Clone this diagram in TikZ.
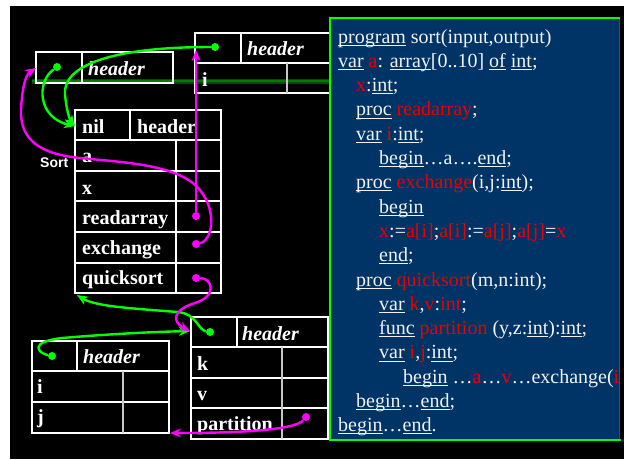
\documentclass[tikz,border=0pt]{standalone}
\usepackage{fontspec}
\setmainfont{Liberation Serif}
\newfontfamily\labelsans{Liberation Sans}
\usetikzlibrary{arrows.meta}

\definecolor{codebg}{RGB}{0,51,102}
\definecolor{codered}{RGB}{235,0,0}
\definecolor{linkgreen}{RGB}{0,255,0}
\definecolor{linkmag}{RGB}{255,0,255}
\definecolor{txtwhite}{RGB}{242,242,242}
\definecolor{bandgreen}{RGB}{0,80,0}
\definecolor{bandcore}{RGB}{0,125,0}

% underlined keyword with a fixed rule just below the baseline
\newcommand\undl[1]{\setbox0=\hbox{#1}\rlap{\rule[-2.6pt]{\wd0}{1pt}}\box0\relax}
% identifier set in red
\newcommand\rd[1]{\textcolor{codered}{#1}}

\tikzset{
  tbl/.style={draw=white, line width=1.6pt},
  tblin/.style={draw=white!78!black, line width=1.3pt},
  celltxt/.style={text=white, font=\fontsize{20}{24}\selectfont\bfseries, anchor=base west, inner sep=0pt},
  hdrtxt/.style={text=white, font=\fontsize{20}{24}\selectfont\bfseries\itshape, anchor=base west, inner sep=0pt},
  codeline/.style={text=txtwhite, font=\fontsize{20}{24}\selectfont, anchor=base west, inner sep=0pt},
  gdot/.style={circle, fill=linkgreen, inner sep=0pt, minimum size=8pt},
  mdot/.style={circle, fill=linkmag, inner sep=0pt, minimum size=8pt},
  garrow/.style={draw=linkgreen, line width=2.4pt, -{Stealth[length=11pt,width=9pt]}},
  marrow/.style={draw=linkmag, line width=2.4pt, -{Stealth[length=11pt,width=9pt]}},
}

\begin{document}
\begin{tikzpicture}[x=1pt,y=-1pt]
\useasboundingbox (0,0) rectangle (624,459);
\fill[white] (0,0) rectangle (624,459);
\fill[black] (10,6) rectangle (624,459);

% dark green band behind the two upper records
\draw[bandgreen, line width=5pt] (32,81) -- (330,81);
\draw[bandcore, line width=2pt] (32,81) -- (330,81);

% record: header (top left)
\draw[tbl] (36,52) rectangle (173,83);
\draw[tbl] (82,52) -- (82,83);
\node[hdrtxt] (hA) at (88,75) {header};

% record: readarray
\draw[tbl] (195,33) rectangle (332,93);
\draw[tbl] (195,63) -- (332,63);
\draw[tbl] (241,33) -- (241,63);
\draw[tblin] (287,63) -- (287,93);
\node[hdrtxt] (hB) at (247,55) {header};
\node[celltxt] (iB) at (202,86) {i};

% record: Sort
\draw[tbl] (75,110) rectangle (221,293);
\foreach \yy in {140,171,201,232,263} \draw[tbl] (75,\yy) -- (221,\yy);
\draw[tbl] (130,110) -- (130,140);
\draw[tbl] (176,140) -- (176,293);
\node[celltxt] (nilC) at (82,133) {nil};
\node[celltxt] (hC) at (137,133) {header};
\node[celltxt] (aC) at (82,162) {a};
\node[celltxt] (xC) at (82,194) {x};
\node[celltxt] (rC) at (82,224) {readarray};
\node[celltxt] (eC) at (82,254) {exchange};
\node[celltxt] (qC) at (82,284) {quicksort};
\node[text=white, font=\labelsans\bfseries\fontsize{14}{16}\selectfont, anchor=base west, inner sep=0pt] (sortlbl) at (40,167) {Sort};

% record: quicksort
\draw[tbl] (191,317) rectangle (328,439);
\foreach \yy in {347,378,408} \draw[tbl] (191,\yy) -- (328,\yy);
\draw[tbl] (237,317) -- (237,347);
\draw[tblin] (282,347) -- (282,439);
\node[hdrtxt] (hD) at (242,340) {header};
\node[celltxt] (kD) at (197,370) {k};
\node[celltxt] (vD) at (197,400) {v};
\node[celltxt] (pD) at (197,430) {partition};

% record: partition
\draw[tbl] (32,341) rectangle (169,433);
\foreach \yy in {371,402} \draw[tbl] (32,\yy) -- (169,\yy);
\draw[tbl] (77,341) -- (77,371);
\draw[tblin] (123,371) -- (123,433);
\node[hdrtxt] (hE) at (83,363) {header};
\node[celltxt] (iE) at (37,393) {i};
\node[celltxt] (jE) at (37,423) {j};

% program listing
\fill[codebg] (330,18) rectangle (619,440);
\draw[linkgreen, line width=2pt] (620,18) -- (330,18) -- (330,440) -- (621,440);
\draw[black!70!white, line width=1.2pt] (619.5,19) -- (619.5,439);
\begin{scope}
\clip (331,19) rectangle (619,439);
\def\LA{338}\def\LB{356}\def\LC{379}\def\LD{403}
\node[codeline] (c1)  at (\LA,43.0)  {\undl{program} sort(input,output)};
\node[codeline] (c2)  at (\LA,67.3)  {\undl{var} \rd{a}: \undl{array}[0..10] \undl{of} \undl{int};};
\node[codeline] (c3)  at (\LB,91.6)  {\rd{x}:\undl{int};};
\node[codeline] (c4)  at (\LB,115.9) {\undl{proc} \rd{readarray};};
\node[codeline] (c5)  at (\LB,140.2) {\undl{var} \rd{i}:\undl{int};};
\node[codeline] (c6)  at (\LC,164.5) {\undl{begin}…a….\undl{end};};
\node[codeline] (c7)  at (\LB,188.8) {\undl{proc} \rd{exchange}(i,j:\undl{int});};
\node[codeline] (c8)  at (\LC,213.1) {\undl{begin}};
\node[codeline] (c9)  at (\LC,237.4) {\rd{x}:=\rd{a[i]};\rd{a[i]}:=\rd{a[j]};\rd{a[j]}=\rd{x}};
\node[codeline] (c10) at (\LC,261.7) {\undl{end};};
\node[codeline] (c11) at (\LB,286.0) {\undl{proc} \rd{quicksort}(m,n:int);};
\node[codeline] (c12) at (\LC,310.3) {\undl{var} \rd{k},\rd{v}:\rd{int};};
\node[codeline] (c13) at (\LC,334.6) {\undl{func} \rd{partition} (y,z:\undl{int}):\undl{int};};
\node[codeline] (c14) at (\LC,358.9) {\undl{var} \rd{i},\rd{j}:\undl{int};};
\node[codeline] (c15) at (\LD,383.2) {\undl{begin} …\rd{a}…\rd{v}…exchange(\rd{i}};
\node[codeline] (c16) at (\LB,407.5) {\undl{begin}…\undl{end};};
\node[codeline] (c17) at (\LA,431.8) {\undl{begin}…\undl{end}.};
\end{scope}

% pointer origins
\node[gdot] (gA) at (57,67) {};
\node[gdot] (gB) at (215,47) {};
\node[gdot] (gD) at (210,332) {};
\node[gdot] (gE) at (52,356) {};
\node[mdot] (mR) at (196,216) {};
\node[mdot] (mX) at (196,244) {};
\node[mdot] (mQ) at (196,278) {};
\node[mdot] (mP) at (306,417) {};

% pointer targets
\coordinate (tNil) at (75,126);
\coordinate (tSortEnd) at (77,295);
\coordinate (tQuick) at (190,331);
\coordinate (tHdrA) at (36,68);
\coordinate (tRead) at (196,50);
\coordinate (tPartEnd) at (170,433);

% green links
\draw[garrow] (gA) .. controls (36,82) and (38,118) .. (tNil);
\draw[garrow] (gB) .. controls (110,47) and (62,66) .. (65,95) .. controls (67,112) and (69,118) .. (tNil);
\draw[garrow] (gD) .. controls (198,330) and (197,314) .. (178,312) .. controls (125,308) and (95,306) .. (tSortEnd);
\draw[garrow] (gE) .. controls (38,353) and (28,342) .. (62,338) .. controls (110,334) and (150,332) .. (tQuick);

% magenta links
\draw[marrow] (mR) -- (tRead);
\draw[marrow] (mX) .. controls (215,240) and (218,200) .. (190,181) .. controls (165,164) and (120,162) .. (80,158) .. controls (40,154) and (20,140) .. (21,110) .. controls (22,90) and (25,75) .. (tHdrA);
\draw[marrow] (mQ) .. controls (212,278) and (218,296) .. (195,303) .. controls (172,310) and (172,322) .. (tQuick);
\draw[marrow] (mP) .. controls (295,430) and (240,433) .. (tPartEnd);
\end{tikzpicture}
\end{document}
